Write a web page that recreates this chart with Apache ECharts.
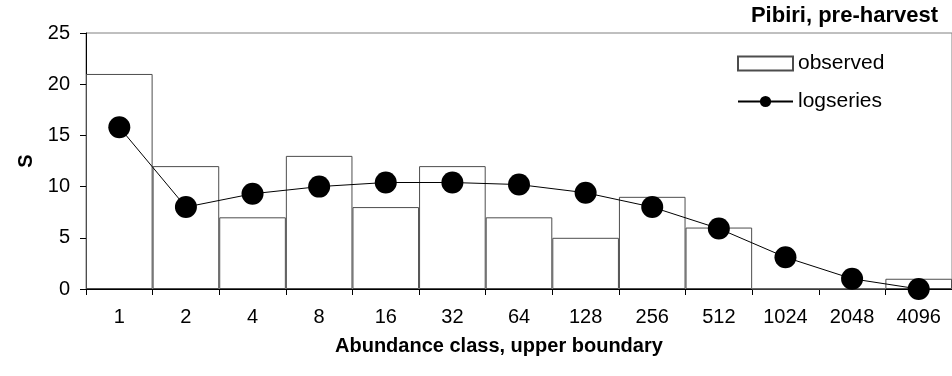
<!DOCTYPE html>
<html>
<head>
<meta charset="utf-8">
<script src="https://cdn.jsdelivr.net/npm/echarts@6/dist/echarts.min.js"></script>
<style>
  html, body { margin: 0; padding: 0; background: #fff; }
  #chart { width: 952px; height: 376px; }
</style>
</head>
<body>
<div id="chart"></div>
<script>
// Abundance classes (upper boundary of each octave)
const categories = ['1', '2', '4', '8', '16', '32', '64', '128', '256', '512', '1024', '2048', '4096'];
// Observed number of species per class
const observed = [21, 12, 7, 13, 8, 12, 7, 5, 9, 6, 0, 0, 1];
// Expected number of species from the fitted log-series
const logseries = [15.8, 8.0, 9.3, 10.0, 10.4, 10.4, 10.2, 9.4, 8.0, 5.9, 3.1, 1.0, 0.0];
// Value-axis ticks
const yTicks = { min: 0, max: 25, step: 5 };

const FONT = '"Liberation Sans", Arial, sans-serif';

const chart = echarts.init(document.getElementById('chart'), null, { renderer: 'canvas' });

chart.setOption({
  backgroundColor: '#fff',
  animation: false,
  title: {
    text: 'Pibiri, pre-harvest',
    right: 14,
    top: 5,
    padding: 0,
    textStyle: { fontFamily: FONT, fontSize: 22, fontWeight: 'bold', color: '#000' }
  },
  legend: {
    orient: 'vertical',
    left: 737,
    top: 53,
    padding: 0,
    itemWidth: 55,
    itemHeight: 14,
    itemGap: 17,
    textStyle: { fontFamily: FONT, fontSize: 21, color: '#000' },
    data: [
      { name: 'observed', icon: 'rect' },
      { name: 'logseries' }
    ]
  },
  grid: {
    left: 86,
    top: 33,
    width: 874,
    height: 256,
    show: true,
    borderColor: '#808080',
    borderWidth: 1,
    backgroundColor: 'transparent'
  },
  xAxis: {
    type: 'category',
    data: categories,
    boundaryGap: true,
    axisLine: { lineStyle: { color: '#000', width: 1 } },
    axisTick: { show: true, length: 6, interval: 0, lineStyle: { color: '#000' } },
    axisLabel: { interval: 0, margin: 18, fontFamily: FONT, fontSize: 20, color: '#000' },
    splitLine: { show: false }
  },
  yAxis: {
    type: 'value',
    min: yTicks.min,
    max: yTicks.max,
    interval: yTicks.step,
    name: 'S',
    nameLocation: 'middle',
    nameGap: 50,
    nameRotate: 90,
    nameTextStyle: { fontFamily: FONT, fontSize: 20, fontWeight: 'bold', color: '#000' },
    axisLine: { show: true, lineStyle: { color: '#000', width: 1 } },
    axisTick: { show: true, length: 6, lineStyle: { color: '#000' } },
    axisLabel: { margin: 16, fontFamily: FONT, fontSize: 20, color: '#000' },
    splitLine: { show: false }
  },
  graphic: [
    {
      type: 'text',
      left: 335,
      top: 336,
      style: {
        text: 'Abundance class, upper boundary',
        font: 'bold 20px ' + FONT,
        fill: '#000'
      }
    }
  ],
  series: [
    {
      name: 'observed',
      type: 'bar',
      data: observed,
      barCategoryGap: '0%',
      z: 1,
      itemStyle: { color: '#fff', borderColor: '#4d4d4d', borderWidth: 1 }
    },
    {
      name: 'logseries',
      type: 'line',
      data: logseries,
      z: 3,
      symbol: 'circle',
      symbolSize: 22,
      lineStyle: { color: '#000', width: 1 },
      itemStyle: { color: '#000' }
    }
  ]
});
</script>
</body>
</html>
